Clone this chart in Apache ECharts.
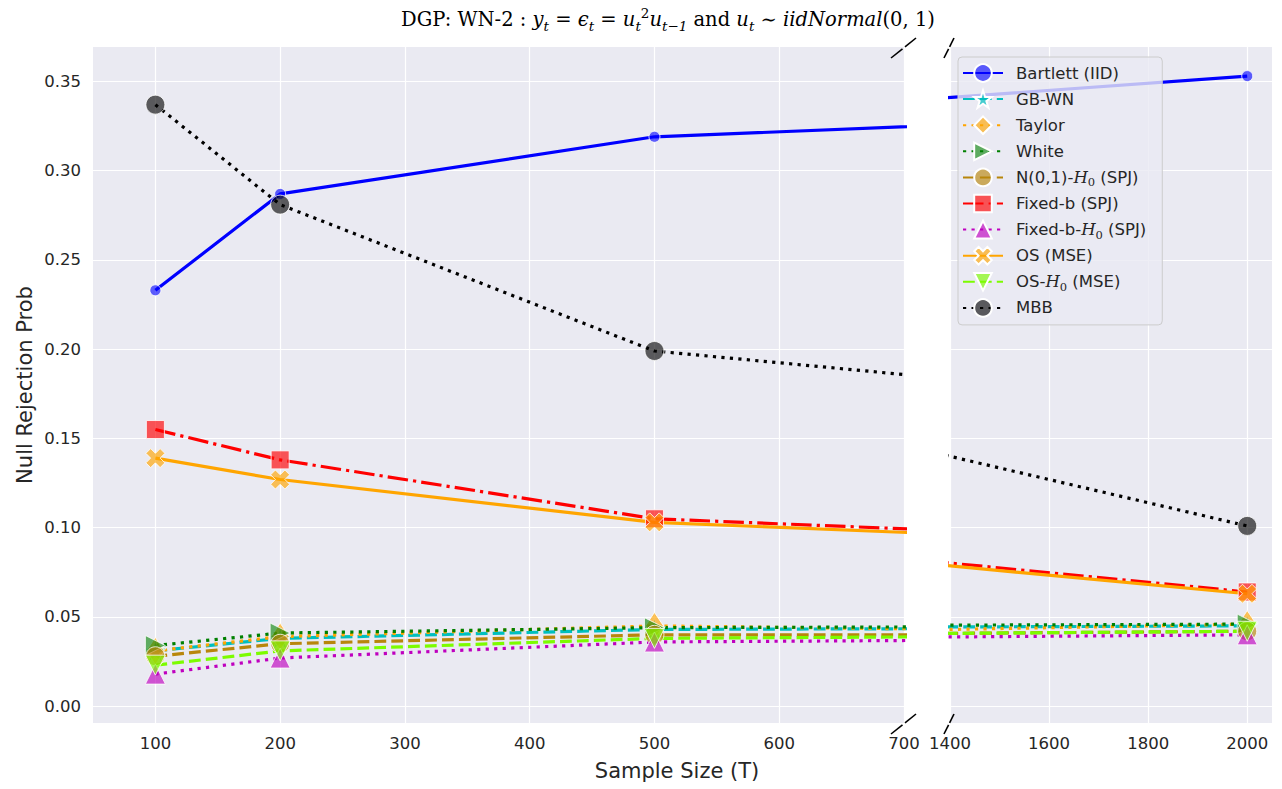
<!DOCTYPE html>
<html>
<head>
<meta charset="utf-8">
<script src="https://cdn.jsdelivr.net/npm/echarts@6/dist/echarts.min.js"></script>
<style>
html,body{margin:0;padding:0;background:#fff;}
#chart{width:1282px;height:789px;}
</style>
</head>
<body>
<div id="chart"></div>
<script>
// ---- data ----
const T = [100, 200, 500, 1000, 2000];
const bartlett = [0.233, 0.287, 0.319, 0.333, 0.353];
const gbwn     = [0.031, 0.038, 0.043, 0.044, 0.045];
const taylor   = [0.031, 0.039, 0.045, 0.041, 0.046];
const white    = [0.034, 0.041, 0.044, 0.045, 0.046];
const n01h0    = [0.028, 0.035, 0.040, 0.040, 0.042];
const fixedb   = [0.155, 0.138, 0.105, 0.091, 0.064];
const fixedbh0 = [0.018, 0.027, 0.036, 0.038, 0.040];
const osmse    = [0.139, 0.127, 0.103, 0.089, 0.063];
const osh0     = [0.023, 0.031, 0.038, 0.040, 0.042];
const mbb      = [0.337, 0.281, 0.199, 0.166, 0.101];

const seriesNames = ['Bartlett (IID)', 'GB-WN', 'Taylor', 'White', 'N(0,1)-H0 (SPJ)',
  'Fixed-b (SPJ)', 'Fixed-b-H0 (SPJ)', 'OS (MSE)', 'OS-H0 (MSE)', 'MBB'];
const yTicks = [0, 0.05, 0.10, 0.15, 0.20, 0.25, 0.30, 0.35];
const xTicksLeft = [100, 200, 300, 400, 500, 600, 700];
const xTicksRight = [1400, 1600, 1800, 2000];

// ---- styles ----
const LW = 3.2;
const DOT = [LW, 5.3];
const DASH = [11.8, 5.1];
const DASHDOT = [20.5, 5.1, LW, 5.1];
const STAR = 'path://M50,0L61.2,34.6L97.6,34.5L68.1,55.9L79.4,90.5L50,69L20.6,90.5L31.9,55.9L2.4,34.5L38.8,34.6Z';
const XMARK = 'path://M0,25L25,0L50,25L75,0L100,25L75,50L100,75L75,100L50,75L25,100L0,75L25,50Z';

const defs = [
  {name: seriesNames[0], data: bartlett, line: '#0000ff', fill: 'rgba(0,0,255,0.62)', type: 'solid', symbol: 'circle', size: 11},
  {name: seriesNames[1], data: gbwn, line: '#00bfbf', fill: 'rgba(0,191,191,0.7)', type: DASH, symbol: STAR, size: 22},
  {name: seriesNames[2], data: taylor, line: '#ffa500', fill: 'rgba(255,165,0,0.65)', type: DOT, symbol: 'diamond', size: [18, 27]},
  {name: seriesNames[3], data: white, line: '#008000', fill: 'rgba(0,128,0,0.6)', type: DOT, symbol: 'triangle', size: 20, rotate: -90},
  {name: seriesNames[4], data: n01h0, line: '#b8860b', fill: 'rgba(184,134,11,0.65)', type: DASH, symbol: 'circle', size: 19},
  {name: seriesNames[5], data: fixedb, line: '#ff0000', fill: 'rgba(255,0,0,0.65)', type: DASHDOT, symbol: 'rect', size: 18},
  {name: seriesNames[6], data: fixedbh0, line: '#bf00bf', fill: 'rgba(191,0,191,0.65)', type: DOT, symbol: 'triangle', size: 20},
  {name: seriesNames[7], data: osmse, line: '#ffa500', fill: 'rgba(255,165,0,0.65)', type: 'solid', symbol: XMARK, size: 19},
  {name: seriesNames[8], data: osh0, line: '#7cfc00', fill: 'rgba(124,252,0,0.65)', type: DASH, symbol: 'triangle', size: 20, rotate: 180},
  {name: seriesNames[9], data: mbb, line: '#000000', fill: 'rgba(0,0,0,0.62)', type: DOT, symbol: 'circle', size: 19}
];

const series = [];
[0, 1].forEach(function (gi) {
  defs.forEach(function (d) {
    series.push({
      name: d.name,
      type: 'line',
      xAxisIndex: gi,
      yAxisIndex: gi,
      data: T.map(function (t, i) { return [t, d.data[i]]; }),
      clip: true,
      symbol: d.symbol,
      symbolSize: d.size,
      symbolRotate: d.rotate || 0,
      showAllSymbol: true,
      z: 2,
      lineStyle: {color: d.line, width: LW, type: d.type, cap: 'butt'},
      itemStyle: {color: d.fill, borderColor: '#ffffff', borderWidth: 0.8},
      emphasis: {disabled: true},
      animation: false
    });
  });
});

const TXT = '#262626';
const FONT = 'DejaVu Sans';

function yAxisDef(gi, showLabels) {
  return {
    gridIndex: gi, type: 'value', min: -0.0094, max: 0.3693,
    axisLine: {show: false},
    axisTick: {show: false, customValues: yTicks},
    axisLabel: {show: showLabels, customValues: yTicks, formatter: function (v) { return v.toFixed(2); },
      color: TXT, fontSize: 16.5, fontFamily: FONT, margin: 12},
    splitLine: {show: true, lineStyle: {color: '#ffffff', width: 1.2}}
  };
}
function xAxisDef(gi, mn, mx, ticks) {
  return {
    gridIndex: gi, type: 'value', min: mn, max: mx,
    axisLine: {show: false},
    axisTick: {show: false, customValues: ticks},
    axisLabel: {customValues: ticks, formatter: function (v) { return String(v); },
      color: TXT, fontSize: 16.5, fontFamily: FONT, margin: 12},
    splitLine: {show: true, lineStyle: {color: '#ffffff', width: 1.2}}
  };
}

function seg(x1, y1, x2, y2, a, b) {
  return {type: 'line', silent: true, z: 50,
    shape: {x1: x1 + (x2 - x1) * a, y1: y1 + (y2 - y1) * a, x2: x1 + (x2 - x1) * b, y2: y1 + (y2 - y1) * b},
    style: {stroke: '#000', lineWidth: 1.6}};
}
function breakMark(x1, y1, x2, y2) {
  return [seg(x1, y1, x2, y2, 0, 0.46), seg(x1, y1, x2, y2, 0.56, 1)];
}

const chart = echarts.init(document.getElementById('chart'), null, {renderer: 'svg', width: 1282, height: 789});
chart.setOption({
  backgroundColor: '#ffffff',
  animation: false,
  title: {
    text: 'DGP: WN-2 : {i|y}{sb|t}{r| = }{i|ϵ}{sb|t}{r| = }{i|u}{sb|t}{sp|2}{i|u}{sb|t−1}{r| and }{i|u}{sb|t}{r| ∼ }{i|iidNormal}{r|(0, 1)}',
    left: 663, top: 1, textAlign: 'center',
    textStyle: {
      fontFamily: 'DejaVu Serif', fontSize: 19.5, fontWeight: 'normal', color: '#000', lineHeight: 27,
      rich: {
        r: {fontFamily: 'DejaVu Serif', fontSize: 19.5, color: '#000', lineHeight: 27},
        i: {fontFamily: 'DejaVu Serif', fontStyle: 'italic', fontSize: 19.5, color: '#000', lineHeight: 27},
        sb: {fontFamily: 'DejaVu Serif', fontStyle: 'italic', fontSize: 13.5, color: '#000', lineHeight: 14, verticalAlign: 'bottom'},
        sp: {fontFamily: 'DejaVu Serif', fontSize: 13.5, color: '#000', lineHeight: 17, verticalAlign: 'top'}
      }
    }
  },
  grid: [
    {left: 93, top: 47, width: 811, height: 676, show: true, backgroundColor: '#EAEAF2', borderWidth: 0},
    {left: 950, top: 47, width: 322, height: 676, show: true, backgroundColor: '#EAEAF2', borderWidth: 0}
  ],
  xAxis: [xAxisDef(0, 50, 700, xTicksLeft), xAxisDef(1, 1400, 2050, xTicksRight)],
  yAxis: [yAxisDef(0, true), yAxisDef(1, false)],
  legend: {
    data: seriesNames,
    orient: 'vertical',
    left: 958, top: 57,
    padding: [5, 16, 6, 4],
    itemWidth: 40, itemHeight: 22, itemGap: 4.1,
    backgroundColor: 'rgba(234,234,242,0.8)',
    borderColor: '#cccccc', borderWidth: 1, borderRadius: 4,
    selectedMode: false,
    formatter: function (n) { return n.replace('H0', '{h|H}{s|0}'); },
    textStyle: {
      color: TXT, fontSize: 16.5, fontFamily: FONT, lineHeight: 22, padding: [0, 0, 0, 8],
      rich: {
        h: {fontFamily: 'DejaVu Serif', fontStyle: 'italic', fontSize: 16.5, color: TXT, lineHeight: 22},
        s: {fontFamily: 'DejaVu Serif', fontSize: 11.5, color: TXT, lineHeight: 12, verticalAlign: 'bottom'}
      }
    }
  },
  graphic: [].concat(
    breakMark(891, 58, 916, 38),
    breakMark(944, 58, 954, 38),
    breakMark(891, 734, 916, 714),
    breakMark(944, 734, 954, 714),
    [
      {type: 'text', x: 677, y: 771, silent: true,
        style: {text: 'Sample Size (T)', fontSize: 21, fontFamily: FONT, fill: TXT, align: 'center', verticalAlign: 'middle'}},
      {type: 'text', x: 25, y: 385, rotation: Math.PI / 2, silent: true,
        style: {text: 'Null Rejection Prob', fontSize: 21, fontFamily: FONT, fill: TXT, align: 'center', verticalAlign: 'middle'}}
    ]
  ),
  series: series
});
</script>
</body>
</html>
